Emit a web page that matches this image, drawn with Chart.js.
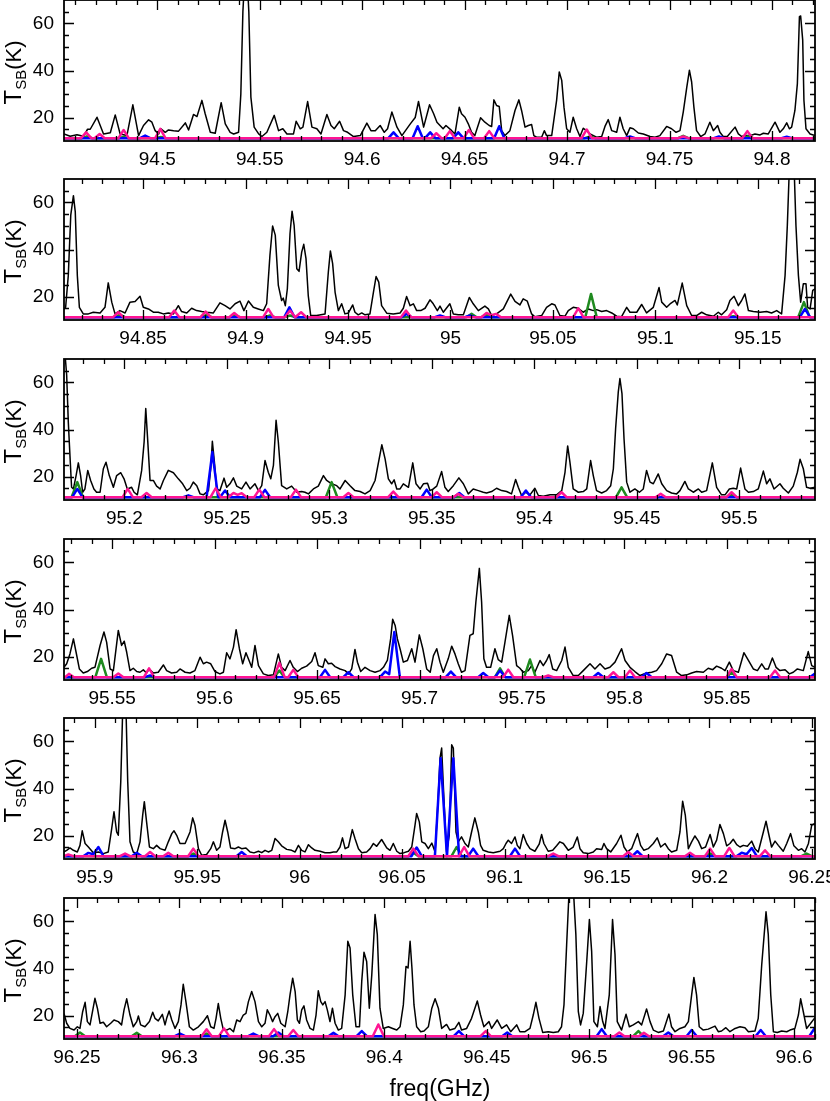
<!DOCTYPE html>
<html>
<head>
<meta charset="utf-8">
<script src="https://cdn.jsdelivr.net/npm/chart.js@4.4.1/dist/chart.umd.min.js"></script>
<style>
  html, body { margin: 0; padding: 0; background: #fff; }
  #wrap { position: relative; width: 830px; height: 1101px; overflow: hidden; }
  #wrap canvas { position: absolute; left: 0; }
</style>
</head>
<body>
<div id="wrap"></div>
<script>
// frequency range of each panel (GHz)
const xRanges = [[94.4545, 94.8210], [94.8114, 95.1779], [95.1705, 95.5370],
                 [95.5265, 95.8930], [95.8850, 96.2515], [96.2437, 96.6102]];
const yRange = [10, 70];

// labelled ticks
const xTicks1 = [94.5, 94.55, 94.6, 94.65, 94.7, 94.75, 94.8];
const xTicks2 = [94.85, 94.9, 94.95, 95, 95.05, 95.1, 95.15];
const xTicks3 = [95.2, 95.25, 95.3, 95.35, 95.4, 95.45, 95.5];
const xTicks4 = [95.55, 95.6, 95.65, 95.7, 95.75, 95.8, 95.85];
const xTicks5 = [95.9, 95.95, 96, 96.05, 96.1, 96.15, 96.2, 96.25];
const xTicks6 = [96.25, 96.3, 96.35, 96.4, 96.45, 96.5, 96.55, 96.6];
const yTicks = [20, 40, 60];

// observed spectrum, [freq, T_SB]
const spec1 = [[94.4545,13.0],[94.4575,12.0],[94.4608,12.7],[94.4640,12.0],[94.4660,15.0],[94.4673,15.0],[94.4706,20.1],[94.4738,13.0],[94.4771,13.5],[94.4795,21.1],[94.4819,13.0],[94.4852,12.3],[94.4881,25.4],[94.4909,12.3],[94.4933,16.6],[94.4958,19.0],[94.4974,18.0],[94.4990,14.4],[94.5007,13.0],[94.5018,15.2],[94.5039,13.7],[94.5055,14.7],[94.5080,14.4],[94.5104,14.2],[94.5137,17.7],[94.5153,14.7],[94.5177,21.3],[94.5194,20.4],[94.5218,27.3],[94.5234,21.6],[94.5259,13.7],[94.5283,13.3],[94.5312,26.3],[94.5332,17.3],[94.5356,13.7],[94.5373,13.0],[94.5397,13.7],[94.5408,30.0],[94.5418,65.0],[94.5433,90.0],[94.5447,65.0],[94.5457,28.7],[94.5473,15.9],[94.5495,13.0],[94.5511,11.9],[94.5535,13.7],[94.5571,20.9],[94.5592,14.4],[94.5613,15.2],[94.5633,13.0],[94.5665,13.0],[94.5678,18.4],[94.5698,15.2],[94.5711,15.9],[94.5734,26.8],[94.5755,15.9],[94.5779,15.2],[94.5799,13.0],[94.5828,21.3],[94.5848,16.6],[94.5864,15.2],[94.5890,18.4],[94.5909,14.4],[94.5929,13.7],[94.5958,11.9],[94.5991,12.3],[94.6023,17.6],[94.6043,14.4],[94.6064,14.4],[94.6088,16.6],[94.6108,13.7],[94.6124,15.2],[94.6145,22.3],[94.6170,15.9],[94.6194,12.3],[94.6235,17.3],[94.6259,20.0],[94.6275,26.8],[94.6300,15.9],[94.6329,25.4],[94.6349,21.6],[94.6365,18.0],[94.6380,16.6],[94.6395,15.2],[94.6409,16.6],[94.6437,14.4],[94.6453,13.0],[94.6474,24.4],[94.6485,21.6],[94.6502,20.1],[94.6518,17.3],[94.6534,13.7],[94.6550,12.3],[94.6578,19.9],[94.6599,18.0],[94.6620,16.6],[94.6632,16.2],[94.6643,27.5],[94.6656,25.1],[94.6669,24.7],[94.6681,14.4],[94.6697,12.3],[94.6721,14.4],[94.6746,23.0],[94.6765,27.5],[94.6778,23.0],[94.6795,15.9],[94.6811,16.6],[94.6827,17.0],[94.6838,12.3],[94.6851,11.6],[94.6876,11.6],[94.6889,14.4],[94.6900,12.3],[94.6925,12.3],[94.6949,27.3],[94.6962,39.4],[94.6974,35.8],[94.6985,24.4],[94.6998,15.2],[94.7014,13.7],[94.7030,20.1],[94.7047,15.2],[94.7063,11.9],[94.7079,15.4],[94.7096,14.4],[94.7112,13.0],[94.7144,11.6],[94.7169,11.9],[94.7185,16.2],[94.7201,19.1],[94.7218,14.4],[94.7242,13.7],[94.7258,20.1],[94.7274,15.2],[94.7291,12.3],[94.7307,15.6],[94.7323,15.2],[94.7348,13.4],[94.7372,13.0],[94.7405,11.9],[94.7429,11.6],[94.7453,12.3],[94.7486,16.2],[94.7510,15.2],[94.7532,13.7],[94.7551,14.4],[94.7567,22.3],[94.7584,32.7],[94.7597,40.1],[94.7608,35.1],[94.7619,24.4],[94.7632,14.4],[94.7652,11.9],[94.7673,13.0],[94.7697,18.0],[94.7714,14.4],[94.7735,16.6],[94.7746,13.7],[94.7762,11.9],[94.7782,11.9],[94.7820,15.9],[94.7836,13.0],[94.7852,11.9],[94.7868,12.3],[94.7893,12.3],[94.7917,13.0],[94.7942,12.6],[94.7958,13.3],[94.7982,13.0],[94.8015,18.0],[94.8039,13.7],[94.8055,15.2],[94.8072,17.7],[94.8085,15.2],[94.8096,15.9],[94.8112,23.0],[94.8124,34.4],[94.8134,62.9],[94.8140,63.2],[94.8150,52.9],[94.8156,27.3],[94.8166,15.2],[94.8186,13.0],[94.8210,12.3]];

const spec2 = [[94.8114,14.7],[94.8122,15.4],[94.8135,29.0],[94.8147,54.6],[94.8160,62.9],[94.8169,56.0],[94.8179,29.0],[94.8189,15.4],[94.8208,12.6],[94.8233,12.6],[94.8257,13.3],[94.8290,13.0],[94.8314,15.4],[94.8330,25.8],[94.8347,17.6],[94.8363,12.6],[94.8387,14.0],[94.8412,13.0],[94.8436,17.6],[94.8461,17.9],[94.8485,20.1],[94.8501,15.4],[94.8526,14.7],[94.8550,13.3],[94.8574,13.3],[94.8599,12.6],[94.8623,13.0],[94.8648,12.6],[94.8672,16.1],[94.8688,13.6],[94.8713,13.0],[94.8737,15.0],[94.8761,14.0],[94.8786,13.6],[94.8810,13.3],[94.8843,13.0],[94.8875,17.3],[94.8900,16.1],[94.8924,14.7],[94.8949,16.9],[94.8973,18.0],[94.8992,14.0],[94.9014,18.1],[94.9038,15.4],[94.9062,14.7],[94.9087,14.0],[94.9103,16.9],[94.9119,37.5],[94.9132,50.0],[94.9145,46.1],[94.9160,24.7],[94.9176,18.3],[94.9184,19.3],[94.9194,16.1],[94.9204,23.3],[94.9217,46.8],[94.9227,56.3],[94.9237,50.3],[94.9250,31.8],[94.9261,30.7],[94.9274,38.9],[94.9284,42.2],[94.9295,36.1],[94.9306,20.4],[94.9318,11.9],[94.9347,11.9],[94.9388,12.6],[94.9404,30.4],[94.9414,39.4],[94.9425,34.0],[94.9437,21.8],[94.9453,14.0],[94.9469,16.9],[94.9485,12.6],[94.9502,13.0],[94.9523,16.4],[94.9534,13.3],[94.9550,12.2],[94.9567,13.0],[94.9583,12.2],[94.9607,12.6],[94.9624,21.8],[94.9637,28.5],[94.9650,26.1],[94.9664,16.1],[94.9689,12.9],[94.9721,12.6],[94.9754,13.0],[94.9770,15.0],[94.9786,20.0],[94.9803,16.1],[94.9819,16.9],[94.9835,14.0],[94.9855,14.0],[94.9876,15.0],[94.9900,18.6],[94.9916,16.9],[94.9936,14.0],[94.9949,15.9],[94.9965,13.3],[94.9997,16.9],[95.0014,12.6],[95.0038,12.2],[95.0063,12.2],[95.0092,19.6],[95.0111,16.9],[95.0136,14.0],[95.0168,15.9],[95.0185,14.7],[95.0201,11.9],[95.0225,12.6],[95.0258,14.7],[95.0294,21.0],[95.0315,17.9],[95.0339,16.4],[95.0355,19.0],[95.0375,18.0],[95.0396,12.6],[95.0412,11.4],[95.0445,11.9],[95.0469,15.4],[95.0494,16.9],[95.0510,16.4],[95.0534,11.9],[95.0559,11.6],[95.0575,14.0],[95.0599,15.4],[95.0624,15.0],[95.0648,13.3],[95.0673,14.7],[95.0697,14.0],[95.0713,14.4],[95.0738,13.6],[95.0762,14.0],[95.0787,13.0],[95.0811,11.6],[95.0835,11.4],[95.0860,15.4],[95.0876,13.3],[95.0909,13.3],[95.0933,16.6],[95.0957,13.0],[95.0990,15.4],[95.1018,23.8],[95.1031,17.6],[95.1055,15.4],[95.1075,17.1],[95.1096,18.3],[95.1107,16.4],[95.1131,25.7],[95.1153,16.1],[95.1177,11.9],[95.1201,11.9],[95.1226,13.3],[95.1250,12.2],[95.1283,11.6],[95.1307,13.3],[95.1323,12.2],[95.1348,14.4],[95.1364,18.3],[95.1384,20.1],[95.1405,16.1],[95.1421,18.3],[95.1437,21.1],[95.1454,14.0],[95.1478,13.6],[95.1511,13.3],[95.1543,13.6],[95.1567,13.0],[95.1592,14.0],[95.1616,12.6],[95.1633,29.0],[95.1644,50.3],[95.1654,75.0],[95.1665,90.0],[95.1677,75.0],[95.1686,50.3],[95.1698,29.0],[95.1709,17.6],[95.1722,25.4],[95.1735,25.4],[95.1743,15.4],[95.1755,14.7],[95.1768,22.6],[95.1779,23.3]];

const spec3 = [[95.1705,85.0],[95.1710,72.0],[95.1718,63.2],[95.1726,43.2],[95.1734,29.0],[95.1742,15.4],[95.1751,14.7],[95.1764,20.4],[95.1775,25.8],[95.1786,20.4],[95.1796,13.3],[95.1807,14.7],[95.1821,22.6],[95.1835,18.3],[95.1851,14.7],[95.1864,13.3],[95.1881,13.3],[95.1897,23.3],[95.1910,26.1],[95.1926,20.4],[95.1946,15.4],[95.1962,20.4],[95.1982,21.6],[95.1998,19.0],[95.2014,14.7],[95.2035,15.4],[95.2047,13.3],[95.2063,12.2],[95.2084,22.6],[95.2096,34.7],[95.2104,48.9],[95.2113,36.1],[95.2125,18.3],[95.2141,18.3],[95.2157,15.9],[95.2174,14.7],[95.2190,18.3],[95.2214,22.6],[95.2239,21.6],[95.2263,19.0],[95.2284,16.9],[95.2304,14.0],[95.2320,15.0],[95.2336,17.6],[95.2353,16.1],[95.2369,12.6],[95.2385,12.2],[95.2410,14.0],[95.2421,23.3],[95.2429,35.0],[95.2439,26.1],[95.2450,14.7],[95.2466,14.0],[95.2486,19.3],[95.2499,15.4],[95.2515,16.9],[95.2532,19.4],[95.2548,15.9],[95.2572,14.7],[95.2593,17.6],[95.2613,14.7],[95.2637,16.9],[95.2654,14.0],[95.2670,16.1],[95.2686,26.8],[95.2702,21.8],[95.2714,19.0],[95.2727,24.7],[95.2740,43.9],[95.2751,34.7],[95.2767,16.1],[95.2792,14.7],[95.2816,15.9],[95.2841,13.3],[95.2865,13.6],[95.2881,13.3],[95.2898,12.6],[95.2922,14.7],[95.2946,15.9],[95.2971,20.4],[95.2987,18.3],[95.3011,16.9],[95.3036,16.1],[95.3052,14.7],[95.3077,18.3],[95.3101,16.1],[95.3125,14.0],[95.3150,13.6],[95.3174,12.6],[95.3199,14.0],[95.3223,18.3],[95.3256,33.5],[95.3272,27.5],[95.3288,19.0],[95.3304,16.9],[95.3316,18.6],[95.3329,14.7],[95.3345,14.7],[95.3361,16.9],[95.3386,15.4],[95.3407,25.8],[95.3423,16.9],[95.3443,14.7],[95.3459,16.9],[95.3479,17.1],[95.3491,14.0],[95.3507,14.7],[95.3524,15.9],[95.3548,22.1],[95.3564,15.4],[95.3580,13.6],[95.3605,16.1],[95.3632,19.4],[95.3654,16.9],[95.3678,12.6],[95.3702,14.7],[95.3727,14.0],[95.3751,13.3],[95.3767,13.0],[95.3792,13.6],[95.3816,15.0],[95.3841,14.0],[95.3865,13.6],[95.3889,12.6],[95.3909,18.7],[95.3922,15.4],[95.3938,11.9],[95.3959,13.3],[95.3979,12.2],[95.4003,15.0],[95.4020,11.9],[95.4044,11.6],[95.4077,12.2],[95.4109,12.2],[95.4134,14.0],[95.4150,21.8],[95.4163,33.0],[95.4174,26.1],[95.4190,14.7],[95.4215,13.3],[95.4239,13.6],[95.4256,14.7],[95.4275,26.8],[95.4288,20.4],[95.4304,14.0],[95.4329,13.0],[95.4353,14.0],[95.4373,16.1],[95.4386,23.3],[95.4397,40.4],[95.4410,56.0],[95.4418,61.7],[95.4428,55.3],[95.4438,36.1],[95.4451,17.6],[95.4467,13.3],[95.4491,14.7],[95.4513,13.3],[95.4532,14.7],[95.4548,22.6],[95.4565,17.6],[95.4581,16.9],[95.4605,21.1],[95.4622,16.9],[95.4646,14.0],[95.4670,13.0],[95.4695,12.6],[95.4711,14.0],[95.4735,17.9],[95.4752,14.7],[95.4776,13.3],[95.4801,14.7],[95.4817,13.3],[95.4841,14.0],[95.4869,25.8],[95.4890,15.4],[95.4914,12.2],[95.4931,12.2],[95.4952,14.7],[95.4971,15.0],[95.4988,14.7],[95.5007,23.6],[95.5028,14.7],[95.5045,13.3],[95.5069,13.6],[95.5093,14.7],[95.5118,22.3],[95.5134,16.9],[95.5150,19.0],[95.5170,14.7],[95.5199,16.9],[95.5215,15.0],[95.5240,13.0],[95.5264,15.9],[95.5284,21.8],[95.5297,27.3],[95.5313,23.3],[95.5329,15.4],[95.5346,15.0],[95.5370,15.4]];

const spec4 = [[95.5265,15.4],[95.5278,16.9],[95.5294,21.1],[95.5311,27.5],[95.5324,21.8],[95.5340,14.7],[95.5359,13.0],[95.5379,13.6],[95.5400,15.0],[95.5416,15.4],[95.5441,24.7],[95.5460,30.4],[95.5473,26.1],[95.5490,14.7],[95.5506,14.0],[95.5530,31.1],[95.5546,24.7],[95.5559,26.5],[95.5571,21.8],[95.5587,14.0],[95.5603,15.0],[95.5620,13.6],[95.5636,13.3],[95.5652,14.3],[95.5668,13.0],[95.5681,14.7],[95.5701,13.0],[95.5725,13.3],[95.5750,16.4],[95.5766,14.0],[95.5790,13.0],[95.5815,13.3],[95.5831,14.7],[95.5856,13.3],[95.5880,13.0],[95.5904,14.0],[95.5929,19.7],[95.5945,16.9],[95.5961,17.6],[95.5981,16.9],[95.6002,13.6],[95.6026,12.6],[95.6043,13.3],[95.6059,21.6],[95.6075,19.0],[95.6092,24.0],[95.6105,31.4],[95.6121,23.3],[95.6137,16.9],[95.6153,21.6],[95.6170,17.9],[95.6181,15.4],[95.6197,24.7],[95.6214,16.1],[95.6238,12.6],[95.6262,11.9],[95.6287,12.2],[95.6311,21.1],[95.6327,15.4],[95.6344,14.0],[95.6368,18.3],[95.6384,15.4],[95.6404,13.6],[95.6425,15.0],[95.6449,15.9],[95.6474,17.9],[95.6490,21.6],[95.6506,16.1],[95.6528,15.4],[95.6539,19.0],[95.6555,16.9],[95.6571,17.1],[95.6588,15.7],[95.6612,14.7],[95.6637,14.0],[95.6653,12.6],[95.6669,14.7],[95.6685,23.0],[95.6697,17.6],[95.6713,13.6],[95.6734,15.4],[95.6759,14.0],[95.6783,13.3],[95.6807,14.0],[95.6824,15.4],[95.6843,18.3],[95.6859,27.5],[95.6869,35.8],[95.6881,33.2],[95.6892,27.5],[95.6905,23.3],[95.6921,17.6],[95.6941,18.3],[95.6962,23.3],[95.6978,17.6],[95.6999,29.2],[95.7016,23.3],[95.7035,14.7],[95.7052,13.3],[95.7068,20.4],[95.7084,23.3],[95.7100,17.6],[95.7116,13.3],[95.7140,19.0],[95.7157,24.4],[95.7173,21.1],[95.7189,16.9],[95.7205,13.3],[95.7222,14.0],[95.7246,29.0],[95.7262,29.7],[95.7275,43.2],[95.7292,57.5],[95.7303,43.2],[95.7314,19.0],[95.7327,15.4],[95.7347,15.4],[95.7368,23.3],[95.7384,18.7],[95.7401,17.6],[95.7417,26.1],[95.7438,37.5],[95.7454,29.0],[95.7474,16.1],[95.7490,15.0],[95.7506,13.3],[95.7531,14.0],[95.7547,16.1],[95.7563,13.3],[95.7588,18.3],[95.7604,16.1],[95.7620,18.3],[95.7633,20.8],[95.7650,14.7],[95.7669,14.0],[95.7694,18.3],[95.7710,24.0],[95.7726,15.4],[95.7750,11.9],[95.7775,11.9],[95.7799,14.0],[95.7832,16.9],[95.7856,14.7],[95.7881,16.9],[95.7905,14.7],[95.7929,15.4],[95.7954,17.6],[95.7986,23.3],[95.8003,18.3],[95.8027,15.4],[95.8051,13.6],[95.8076,11.9],[95.8108,13.0],[95.8133,13.3],[95.8157,14.0],[95.8182,16.9],[95.8206,21.1],[95.8230,20.4],[95.8255,13.3],[95.8279,11.9],[95.8304,12.2],[95.8328,13.0],[95.8352,13.6],[95.8385,13.3],[95.8409,15.0],[95.8431,14.4],[95.8450,15.9],[95.8474,15.0],[95.8491,14.0],[95.8512,17.6],[95.8531,14.0],[95.8556,13.3],[95.8583,21.6],[95.8605,18.3],[95.8629,14.7],[95.8649,14.0],[95.8670,16.9],[95.8686,14.7],[95.8702,14.7],[95.8722,19.4],[95.8740,15.4],[95.8759,14.0],[95.8784,14.4],[95.8805,12.6],[95.8824,13.3],[95.8844,14.7],[95.8873,14.0],[95.8897,22.1],[95.8914,16.1],[95.8930,15.4]];

const spec5 = [[95.8850,13.0],[95.8863,13.7],[95.8879,14.7],[95.8896,13.7],[95.8915,13.0],[95.8928,15.8],[95.8939,22.0],[95.8953,16.6],[95.8969,15.1],[95.8993,12.7],[95.9018,13.0],[95.9042,12.3],[95.9066,13.0],[95.9083,23.0],[95.9094,30.1],[95.9107,21.5],[95.9115,20.1],[95.9127,42.9],[95.9136,72.0],[95.9144,85.0],[95.9153,72.0],[95.9161,42.9],[95.9172,17.3],[95.9188,13.0],[95.9205,12.3],[95.9221,17.3],[95.9234,28.7],[95.9242,34.4],[95.9253,25.8],[95.9267,15.1],[95.9286,14.4],[95.9302,15.8],[95.9319,14.4],[95.9343,13.7],[95.9359,17.3],[95.9376,20.8],[95.9387,22.0],[95.9400,20.1],[95.9416,16.6],[95.9441,16.6],[95.9465,21.5],[95.9478,27.5],[95.9489,24.4],[95.9506,14.4],[95.9522,11.6],[95.9546,11.9],[95.9566,14.4],[95.9579,17.3],[95.9595,13.7],[95.9611,15.1],[95.9624,21.5],[95.9636,26.5],[95.9649,21.5],[95.9663,14.7],[95.9685,14.4],[95.9701,15.1],[95.9717,14.4],[95.9738,14.7],[95.9758,13.0],[95.9777,12.6],[95.9799,13.3],[95.9815,12.7],[95.9831,13.7],[95.9847,13.0],[95.9864,13.7],[95.9880,18.7],[95.9896,17.3],[95.9912,15.6],[95.9937,14.1],[95.9961,13.7],[95.9978,13.0],[95.9994,15.8],[96.0010,13.7],[96.0026,13.0],[96.0043,16.1],[96.0059,14.7],[96.0075,13.7],[96.0100,13.3],[96.0124,12.7],[96.0148,12.7],[96.0165,13.0],[96.0181,13.0],[96.0197,15.1],[96.0209,19.0],[96.0222,14.4],[96.0238,15.1],[96.0257,22.5],[96.0270,18.7],[96.0287,14.4],[96.0303,12.7],[96.0327,13.0],[96.0344,14.4],[96.0360,16.6],[96.0376,15.4],[96.0400,18.3],[96.0425,14.7],[96.0441,13.7],[96.0457,16.6],[96.0474,13.3],[96.0490,12.3],[96.0510,12.7],[96.0531,13.3],[96.0547,15.1],[96.0563,24.4],[96.0571,29.4],[96.0584,25.8],[96.0596,17.3],[96.0612,16.6],[96.0628,14.4],[96.0645,16.8],[96.0661,13.0],[96.0676,35.8],[96.0685,52.9],[96.0693,57.2],[96.0704,35.8],[96.0717,13.0],[96.0730,20.0],[96.0742,58.6],[96.0750,57.2],[96.0763,21.5],[96.0774,17.3],[96.0790,19.4],[96.0807,16.6],[96.0823,15.1],[96.0839,21.5],[96.0855,27.5],[96.0872,21.5],[96.0883,15.8],[96.0896,13.7],[96.0921,13.0],[96.0945,12.7],[96.0978,13.3],[96.0994,14.4],[96.1007,16.6],[96.1018,18.0],[96.1034,16.6],[96.1051,19.4],[96.1062,15.8],[96.1075,14.4],[96.1091,20.4],[96.1108,16.6],[96.1124,14.4],[96.1148,13.3],[96.1169,16.3],[96.1181,20.4],[96.1192,16.6],[96.1213,13.3],[96.1235,13.7],[96.1254,15.6],[96.1270,17.3],[96.1287,16.6],[96.1311,13.7],[96.1335,15.1],[96.1355,19.4],[96.1368,14.4],[96.1384,12.7],[96.1409,12.3],[96.1433,13.0],[96.1449,14.4],[96.1474,14.0],[96.1485,16.6],[96.1498,14.4],[96.1518,13.0],[96.1547,16.6],[96.1568,20.1],[96.1583,15.1],[96.1599,13.0],[96.1620,14.4],[96.1636,18.0],[96.1649,20.8],[96.1664,15.8],[96.1680,13.7],[96.1701,14.4],[96.1726,16.6],[96.1745,19.0],[96.1762,15.1],[96.1783,16.6],[96.1799,14.4],[96.1815,13.0],[96.1840,13.7],[96.1856,21.5],[96.1869,34.6],[96.1882,28.7],[96.1897,14.4],[96.1913,17.3],[96.1929,19.8],[96.1946,17.6],[96.1962,14.4],[96.1981,15.1],[96.2003,20.4],[96.2019,15.1],[96.2035,18.0],[96.2051,24.7],[96.2068,20.8],[96.2084,15.6],[96.2100,16.6],[96.2116,18.4],[96.2133,16.1],[96.2149,15.1],[96.2165,15.8],[96.2185,15.4],[96.2206,17.6],[96.2222,14.4],[96.2238,13.0],[96.2263,21.5],[96.2276,26.1],[96.2287,21.5],[96.2303,15.1],[96.2320,17.6],[96.2336,15.8],[96.2360,13.3],[96.2377,16.6],[96.2396,20.8],[96.2412,15.6],[96.2434,13.7],[96.2450,14.4],[96.2466,13.0],[96.2483,16.6],[96.2499,24.4],[96.2515,25.1]];

const spec6 = [[96.2437,20.9],[96.2450,16.7],[96.2466,14.5],[96.2486,13.8],[96.2502,15.2],[96.2515,14.5],[96.2528,21.6],[96.2540,25.6],[96.2551,17.4],[96.2564,16.0],[96.2588,27.3],[96.2600,23.1],[96.2613,16.7],[96.2629,17.1],[96.2645,15.2],[96.2665,16.7],[96.2681,18.1],[96.2702,17.4],[96.2718,16.0],[96.2730,22.4],[96.2743,27.1],[96.2759,20.2],[96.2775,15.2],[96.2792,17.4],[96.2800,19.8],[96.2811,16.0],[96.2832,15.2],[96.2854,17.4],[96.2870,21.4],[96.2881,18.8],[96.2897,17.7],[96.2917,20.5],[96.2930,16.0],[96.2938,18.8],[96.2950,21.9],[96.2963,18.1],[96.2979,14.5],[96.2995,17.4],[96.3008,24.5],[96.3019,33.3],[96.3032,25.9],[96.3049,15.2],[96.3068,13.8],[96.3093,15.2],[96.3117,17.4],[96.3137,19.9],[96.3153,15.2],[96.3169,14.5],[96.3179,18.8],[96.3190,25.1],[96.3202,18.8],[96.3215,13.8],[96.3231,13.8],[96.3247,14.5],[96.3264,13.1],[96.3280,18.1],[96.3296,17.4],[96.3312,20.2],[96.3325,20.9],[96.3337,25.9],[96.3353,30.2],[96.3369,25.9],[96.3386,17.4],[96.3402,15.2],[96.3418,16.7],[96.3429,22.4],[96.3442,20.2],[96.3455,17.4],[96.3467,19.5],[96.3480,20.9],[96.3495,16.7],[96.3516,15.2],[96.3529,21.6],[96.3540,28.8],[96.3553,35.9],[96.3565,30.2],[96.3576,18.1],[96.3586,16.7],[96.3597,22.4],[96.3608,24.1],[96.3621,18.1],[96.3638,14.5],[96.3654,13.8],[96.3667,20.2],[96.3678,30.5],[96.3690,25.9],[96.3700,24.5],[96.3711,25.9],[96.3722,22.4],[96.3735,17.4],[96.3747,23.1],[96.3760,16.7],[96.3776,13.8],[96.3792,14.5],[96.3809,28.8],[96.3822,51.6],[96.3833,48.7],[96.3846,28.8],[96.3862,15.2],[96.3879,15.2],[96.3890,34.5],[96.3901,46.9],[96.3914,43.0],[96.3927,23.1],[96.3939,37.3],[96.3955,63.0],[96.3966,54.4],[96.3979,23.1],[96.3995,14.5],[96.4020,15.2],[96.4041,14.5],[96.4061,13.8],[96.4077,15.2],[96.4093,24.5],[96.4106,40.9],[96.4116,40.2],[96.4126,51.6],[96.4135,40.2],[96.4145,24.5],[96.4158,15.2],[96.4178,13.1],[96.4194,13.4],[96.4215,15.2],[96.4232,23.1],[96.4248,27.1],[96.4264,23.1],[96.4280,14.5],[96.4304,16.2],[96.4320,13.8],[96.4345,14.5],[96.4364,17.1],[96.4377,13.8],[96.4402,14.5],[96.4426,18.8],[96.4454,26.2],[96.4470,20.2],[96.4486,15.2],[96.4511,17.4],[96.4524,14.5],[96.4551,18.1],[96.4573,14.5],[96.4597,16.0],[96.4617,13.1],[96.4646,16.0],[96.4662,13.1],[96.4687,13.1],[96.4711,14.5],[96.4727,20.2],[96.4740,25.6],[96.4755,18.8],[96.4773,12.8],[96.4800,13.1],[96.4825,12.8],[96.4849,13.1],[96.4865,15.2],[96.4877,24.5],[96.4890,50.1],[96.4903,75.0],[96.4913,85.0],[96.4922,75.0],[96.4935,54.4],[96.4947,21.6],[96.4958,16.0],[96.4971,20.9],[96.4988,43.0],[96.5001,60.8],[96.5012,47.3],[96.5023,17.4],[96.5040,15.2],[96.5053,23.8],[96.5066,17.4],[96.5077,14.5],[96.5098,28.8],[96.5114,60.8],[96.5126,45.9],[96.5137,17.4],[96.5158,13.8],[96.5180,20.5],[96.5196,15.2],[96.5215,16.0],[96.5240,17.4],[96.5256,16.0],[96.5280,22.8],[96.5297,17.4],[96.5313,13.8],[96.5337,12.8],[96.5362,13.4],[96.5389,20.6],[96.5402,15.2],[96.5419,13.1],[96.5443,14.5],[96.5467,15.2],[96.5484,17.4],[96.5500,28.8],[96.5511,36.2],[96.5524,28.8],[96.5537,15.2],[96.5557,13.8],[96.5581,14.2],[96.5614,15.5],[96.5630,13.1],[96.5646,13.4],[96.5667,14.8],[96.5687,13.1],[96.5712,14.5],[96.5736,15.2],[96.5760,14.8],[96.5777,13.1],[96.5809,13.4],[96.5825,18.8],[96.5842,41.6],[96.5863,64.1],[96.5874,54.4],[96.5886,28.8],[96.5899,13.1],[96.5918,12.8],[96.5939,13.4],[96.5964,13.1],[96.5980,13.8],[96.6004,14.5],[96.6021,20.2],[96.6032,27.1],[96.6045,21.6],[96.6061,14.5],[96.6081,16.7],[96.6102,19.1]];

// model line (pink)
const pink1 = [[94.4545,11.2],[94.4628,11.2],[94.4653,13.7],[94.4678,11.2],[94.4694,11.2],[94.4719,13.0],[94.4744,11.2],[94.4811,11.2],[94.4836,14.7],[94.4861,11.2],[94.4990,11.2],[94.5015,15.2],[94.5040,11.2],[94.6337,11.2],[94.6362,13.3],[94.6387,11.2],[94.6403,11.2],[94.6428,14.2],[94.6453,11.2],[94.6496,11.2],[94.6521,14.7],[94.6546,11.2],[94.6595,11.2],[94.6620,14.2],[94.6645,11.2],[94.7071,11.2],[94.7096,14.9],[94.7121,11.2],[94.7542,11.2],[94.7567,11.9],[94.7592,11.2],[94.7855,11.2],[94.7880,14.2],[94.7905,11.2],[94.8210,11.2]];
const pink2 = [[94.8114,11.2],[94.8354,11.2],[94.8379,13.3],[94.8404,11.2],[94.8627,11.2],[94.8652,14.0],[94.8677,11.2],[94.8780,11.2],[94.8805,13.6],[94.8830,11.2],[94.8920,11.2],[94.8945,13.0],[94.8970,11.2],[94.9086,11.2],[94.9111,14.7],[94.9136,11.2],[94.9192,11.2],[94.9217,14.0],[94.9242,11.2],[94.9246,11.2],[94.9271,13.3],[94.9296,11.2],[94.9758,11.2],[94.9783,14.0],[94.9808,11.2],[95.0151,11.2],[95.0176,13.0],[95.0199,12.0],[95.0222,12.6],[95.0247,11.2],[95.0599,11.2],[95.0624,15.0],[95.0649,11.2],[95.1355,11.2],[95.1380,14.0],[95.1405,11.2],[95.1779,11.2]];
const pink3 = [[95.1705,11.2],[95.1991,11.2],[95.2016,14.7],[95.2041,11.2],[95.2083,11.2],[95.2108,13.0],[95.2133,11.2],[95.2420,11.2],[95.2445,15.0],[95.2470,11.2],[95.2507,11.2],[95.2532,13.0],[95.2552,12.2],[95.2572,12.9],[95.2597,11.2],[95.2633,11.2],[95.2658,14.4],[95.2683,11.2],[95.2812,11.2],[95.2837,14.4],[95.2862,11.2],[95.3068,11.2],[95.3093,13.0],[95.3118,11.2],[95.3287,11.2],[95.3312,13.6],[95.3337,11.2],[95.3499,11.2],[95.3524,13.3],[95.3549,11.2],[95.3604,11.2],[95.3629,12.6],[95.3654,11.2],[95.4108,11.2],[95.4133,13.3],[95.4158,11.2],[95.4592,11.2],[95.4617,12.6],[95.4642,11.2],[95.4938,11.2],[95.4963,13.3],[95.4988,11.2],[95.5370,11.2]];
const pink4 = [[95.5265,11.2],[95.5270,11.2],[95.5289,12.6],[95.5314,11.2],[95.5505,11.2],[95.5530,12.8],[95.5555,11.2],[95.5655,11.2],[95.5680,15.0],[95.5705,11.2],[95.6290,11.2],[95.6316,17.3],[95.6342,11.2],[95.6359,11.2],[95.6384,14.3],[95.6409,11.2],[95.7408,11.2],[95.7433,14.4],[95.7458,11.2],[95.7603,11.2],[95.7628,11.9],[95.7653,11.2],[95.7921,11.2],[95.7946,13.3],[95.7971,11.2],[95.8002,11.2],[95.8027,14.0],[95.8052,11.2],[95.8498,11.2],[95.8523,14.7],[95.8548,11.2],[95.8710,11.2],[95.8735,14.0],[95.8760,11.2],[95.8930,11.2]];
const pink5 = [[95.8850,11.2],[95.8871,11.9],[95.8896,11.2],[95.9123,11.2],[95.9148,12.3],[95.9173,11.2],[95.9245,11.2],[95.9270,13.0],[95.9295,11.2],[95.9334,11.2],[95.9359,12.6],[95.9384,11.2],[95.9456,11.2],[95.9481,14.4],[95.9506,11.2],[96.0530,11.2],[96.0555,14.4],[96.0580,11.2],[96.0778,11.2],[96.0803,15.1],[96.0828,11.2],[96.1213,11.2],[96.1238,12.3],[96.1263,11.2],[96.1579,11.2],[96.1604,13.0],[96.1629,11.2],[96.1880,11.2],[96.1905,12.6],[96.1930,11.2],[96.1978,11.2],[96.2003,14.4],[96.2028,11.2],[96.2072,11.2],[96.2097,14.7],[96.2122,11.2],[96.2246,11.2],[96.2271,13.7],[96.2296,11.2],[96.2515,11.2]];
const pink6 = [[96.2437,11.2],[96.3108,11.2],[96.3133,14.1],[96.3158,11.2],[96.3193,11.2],[96.3218,14.5],[96.3243,11.2],[96.3437,11.2],[96.3462,14.2],[96.3487,11.2],[96.3531,11.2],[96.3556,13.8],[96.3581,11.2],[96.3944,11.2],[96.3971,16.2],[96.3998,11.2],[96.4470,11.2],[96.4495,13.4],[96.4520,11.2],[96.5122,11.2],[96.5147,12.8],[96.5172,11.2],[96.5242,11.2],[96.5267,12.6],[96.5292,11.2],[96.6102,11.2]];

// model line (blue)
const blue1 = [[94.4545,11.2],[94.4916,11.2],[94.4941,12.3],[94.4966,11.2],[94.6128,11.2],[94.6153,13.7],[94.6178,11.2],[94.6246,11.2],[94.6271,16.3],[94.6296,11.2],[94.6307,11.2],[94.6332,13.7],[94.6357,11.2],[94.6444,11.2],[94.6469,13.7],[94.6494,11.2],[94.6644,11.2],[94.6669,16.3],[94.6694,11.2],[94.7282,11.2],[94.7307,11.9],[94.7332,11.2],[94.7716,11.2],[94.7741,11.9],[94.7766,11.2],[94.8047,11.2],[94.8072,11.8],[94.8097,11.2],[94.8210,11.2]];
const blue2 = [[94.8114,11.2],[94.9189,11.2],[94.9214,15.4],[94.9239,11.2],[94.9761,11.2],[94.9786,12.6],[94.9811,11.2],[94.9924,11.2],[94.9949,11.9],[94.9974,11.2],[95.0070,11.2],[95.0095,11.9],[95.0120,11.2],[95.1705,11.2],[95.1730,14.7],[95.1755,11.2],[95.1779,11.2]];
const blue3 = [[95.1705,11.2],[95.1745,11.2],[95.1770,14.7],[95.1795,11.2],[95.2287,11.2],[95.2312,12.0],[95.2337,11.2],[95.2401,11.2],[95.2429,30.4],[95.2457,11.2],[95.2466,11.2],[95.2491,14.0],[95.2516,11.2],[95.2661,11.2],[95.2686,14.3],[95.2711,11.2],[95.3450,11.2],[95.3475,14.4],[95.3500,11.2],[95.3609,11.2],[95.3634,13.0],[95.3659,11.2],[95.3934,11.2],[95.3959,14.0],[95.3984,11.2],[95.5370,11.2]];
const blue4 = [[95.5265,11.2],[95.5660,11.2],[95.5685,11.9],[95.5710,11.2],[95.6514,11.2],[95.6539,14.3],[95.6564,11.2],[95.6628,11.2],[95.6653,13.3],[95.6678,11.2],[95.6807,11.2],[95.6832,13.6],[95.6852,12.5],[95.6877,30.4],[95.6904,11.2],[95.7128,11.2],[95.7153,13.6],[95.7178,11.2],[95.7286,11.2],[95.7311,13.0],[95.7336,11.2],[95.7368,11.2],[95.7393,14.0],[95.7418,11.2],[95.7847,11.2],[95.7872,13.0],[95.7897,11.2],[95.8083,11.2],[95.8108,13.0],[95.8133,11.2],[95.8905,11.2],[95.8930,12.8]];
const blue5 = [[95.8850,11.2],[95.8944,11.2],[95.8969,12.6],[95.8993,12.0],[95.9018,15.1],[95.9043,11.2],[95.9180,11.2],[95.9205,12.6],[95.9230,11.2],[95.9692,11.2],[95.9717,13.0],[95.9742,11.2],[96.0546,11.2],[96.0571,14.9],[96.0596,11.2],[96.0660,11.2],[96.0688,52.9],[96.0719,11.2],[96.0750,52.9],[96.0778,11.2],[96.0822,11.2],[96.0847,14.4],[96.0872,11.2],[96.1026,11.2],[96.1051,14.4],[96.1076,11.2],[96.1623,11.2],[96.1648,13.3],[96.1673,11.2],[96.2132,11.2],[96.2157,12.7],[96.2181,12.0],[96.2206,14.7],[96.2231,11.2],[96.2515,11.2]];
const blue6 = [[96.2437,11.2],[96.2978,11.2],[96.3003,12.3],[96.3028,11.2],[96.3336,11.2],[96.3361,12.3],[96.3386,11.2],[96.3458,11.2],[96.3483,12.8],[96.3508,11.2],[96.3727,11.2],[96.3752,12.6],[96.3777,11.2],[96.3865,11.2],[96.3890,13.4],[96.3915,11.2],[96.4339,11.2],[96.4364,13.4],[96.4389,11.2],[96.4575,11.2],[96.4600,12.8],[96.4625,11.2],[96.5036,11.2],[96.5061,14.2],[96.5086,11.2],[96.5361,11.2],[96.5386,12.8],[96.5411,11.2],[96.5475,11.2],[96.5500,13.8],[96.5525,11.2],[96.5812,11.2],[96.5837,13.8],[96.5862,11.2],[96.6074,11.2],[96.6102,14.8]];

// model line (green)
const green1 = [[94.4545,11.2],[94.4632,11.2],[94.4657,12.0],[94.4682,11.2],[94.4811,11.2],[94.4836,11.7],[94.4861,11.2],[94.4993,11.2],[94.5018,11.7],[94.5043,11.2],[94.7087,11.2],[94.7112,12.0],[94.7137,11.2],[94.7542,11.2],[94.7567,12.2],[94.7592,11.2],[94.7859,11.2],[94.7884,12.0],[94.7909,11.2],[94.8210,11.2]];
const green2 = [[94.8114,11.2],[94.8362,11.2],[94.8387,12.2],[94.8412,11.2],[94.8785,11.2],[94.8810,12.2],[94.8835,11.2],[94.8924,11.2],[94.8949,11.9],[94.8974,11.2],[94.9094,11.2],[94.9119,11.9],[94.9144,11.2],[94.9192,11.2],[94.9217,11.9],[94.9242,11.2],[95.0078,11.2],[95.0103,12.6],[95.0128,11.2],[95.0151,11.2],[95.0176,12.2],[95.0201,11.2],[95.0658,11.2],[95.0686,21.1],[95.0714,11.2],[95.1355,11.2],[95.1380,11.6],[95.1405,11.2],[95.1697,11.2],[95.1725,17.6],[95.1753,11.2],[95.1779,11.2]];
const green3 = [[95.1705,11.2],[95.1742,11.2],[95.1770,17.6],[95.1798,11.2],[95.2983,11.2],[95.3011,17.6],[95.3039,11.2],[95.4399,11.2],[95.4426,15.4],[95.4453,11.2],[95.4938,11.2],[95.4963,12.2],[95.4988,11.2],[95.5370,11.2]];
const green4 = [[95.5265,11.2],[95.5418,11.2],[95.5446,19.0],[95.5474,11.2],[95.6291,11.2],[95.6316,14.0],[95.6341,11.2],[95.7368,11.2],[95.7393,15.0],[95.7418,11.2],[95.7511,11.2],[95.7539,18.7],[95.7567,11.2],[95.8498,11.2],[95.8523,13.3],[95.8548,11.2],[95.8930,11.2]];
const green5 = [[95.8850,11.2],[95.9456,11.2],[95.9481,12.3],[95.9506,11.2],[96.0530,11.2],[96.0555,12.7],[96.0580,11.2],[96.0741,11.2],[96.0766,15.1],[96.0791,11.2],[96.1978,11.2],[96.2003,12.3],[96.2028,11.2],[96.2449,11.2],[96.2474,12.3],[96.2499,11.2],[96.2515,11.2]];
const green6 = [[96.2437,11.2],[96.2490,11.2],[96.2515,12.8],[96.2540,11.2],[96.2767,11.2],[96.2792,12.6],[96.2817,11.2],[96.3108,11.2],[96.3133,12.3],[96.3158,11.2],[96.5215,11.2],[96.5240,13.4],[96.5265,11.2],[96.6102,11.2]];

const spectra = [spec1, spec2, spec3, spec4, spec5, spec6];
const pinks = [pink1, pink2, pink3, pink4, pink5, pink6];
const blues = [blue1, blue2, blue3, blue4, blue5, blue6];
const greens = [green1, green2, green3, green4, green5, green6];
const xTickSets = [xTicks1, xTicks2, xTicks3, xTicks4, xTicks5, xTicks6];

// page layout: top of each plot box and its height
const panelTops = [0, 179, 359, 539, 718, 898];
const plotH = 141;
const FONT = '"Liberation Sans", Arial, Helvetica, sans-serif';

const toXY = arr => arr.map(p => ({ x: p[0], y: p[1] }));

// box, inward ticks on all four sides, and axis titles
const framePlugin = {
  id: 'frame',
  afterDraw(chart, args, opts) {
    const { ctx, chartArea: a } = chart;
    const x = chart.scales.x, y = chart.scales.y;
    ctx.save();
    ctx.strokeStyle = '#000';
    ctx.lineWidth = 1.3;
    ctx.beginPath();
    for (let k = Math.ceil(x.min * 100); k <= x.max * 100; k++) {
      const px = Math.round(x.getPixelForValue(k / 100)) + 0.5;
      const len = k % 5 === 0 ? 10 : 5;
      ctx.moveTo(px, a.bottom); ctx.lineTo(px, a.bottom - len);
      ctx.moveTo(px, a.top); ctx.lineTo(px, a.top + len);
    }
    for (let v = 15; v < y.max; v += 5) {
      const py = Math.round(y.getPixelForValue(v)) + 0.5;
      const len = v % 20 === 0 ? 10 : 5;
      ctx.moveTo(a.left, py); ctx.lineTo(a.left + len, py);
      ctx.moveTo(a.right, py); ctx.lineTo(a.right - len, py);
    }
    ctx.stroke();
    ctx.lineWidth = 1.8;
    ctx.strokeRect(a.left, a.top, a.right - a.left, a.bottom - a.top);

    // y title: T_SB(K), rotated
    ctx.fillStyle = '#000';
    ctx.translate(21, (a.top + a.bottom) / 2 + 2);
    ctx.rotate(-Math.PI / 2);
    ctx.textBaseline = 'alphabetic';
    ctx.font = '24px ' + FONT;
    const wT = ctx.measureText('T').width;
    ctx.font = '22px ' + FONT;
    const wK = ctx.measureText('(K)').width;
    ctx.font = '15px ' + FONT;
    const wS = ctx.measureText('SB').width;
    const x0 = -(wT + wS + wK) / 2;
    ctx.font = '24px ' + FONT;
    ctx.fillText('T', x0, 0);
    ctx.font = '15px ' + FONT;
    ctx.fillText('SB', x0 + wT, 5);
    ctx.font = '22px ' + FONT;
    ctx.fillText('(K)', x0 + wT + wS, 0);
    ctx.restore();

    if (opts.xTitle) {
      ctx.save();
      ctx.fillStyle = '#000';
      ctx.font = '23px ' + FONT;
      ctx.textAlign = 'center';
      ctx.textBaseline = 'alphabetic';
      ctx.fillText(opts.xTitle, 440, a.bottom + 57);
      ctx.restore();
    }
  }
};

const wrap = document.getElementById('wrap');

for (let i = 0; i < 6; i++) {
  const top = panelTops[i] - 2;
  const h = i === 5 ? 1101 - top : 180;
  const cv = document.createElement('canvas');
  cv.width = 830; cv.height = h;
  cv.style.top = top + 'px';
  cv.style.width = '830px'; cv.style.height = h + 'px';
  wrap.appendChild(cv);

  const ticksX = xTickSets[i];
  new Chart(cv.getContext('2d'), {
    type: 'line',
    data: {
      datasets: [
        { data: toXY(pinks[i]), borderColor: '#ff1493', borderWidth: 2.5 },
        { data: toXY(blues[i]), borderColor: '#0000ff', borderWidth: 2.5 },
        { data: toXY(greens[i]), borderColor: '#1f8a1f', borderWidth: 2.5 },
        { data: toXY(spectra[i]), borderColor: '#000000', borderWidth: 1.5 }
      ]
    },
    options: {
      responsive: false,
      animation: false,
      devicePixelRatio: 1,
      layout: { padding: { top: 2, right: 15, bottom: 0, left: 0 } },
      elements: {
        point: { radius: 0 },
        line: { tension: 0, fill: false, borderJoinStyle: 'round' }
      },
      plugins: {
        legend: { display: false },
        tooltip: { enabled: false },
        frame: { xTitle: i === 5 ? 'freq(GHz)' : '' }
      },
      scales: {
        x: {
          type: 'linear',
          min: xRanges[i][0],
          max: xRanges[i][1],
          grid: { display: false, drawTicks: false },
          border: { display: false },
          afterBuildTicks: s => { s.ticks = ticksX.map(v => ({ value: v })); },
          afterFit: s => {
            s.height = h - 2 - plotH;
            s.paddingLeft = 0; s.paddingRight = 0;
          },
          ticks: {
            autoSkip: false,
            maxRotation: 0,
            padding: 7,
            color: '#000',
            font: { family: FONT, size: 19 },
            callback: v => String(v)
          }
        },
        y: {
          min: yRange[0],
          max: yRange[1],
          grid: { display: false, drawTicks: false },
          border: { display: false },
          afterBuildTicks: s => { s.ticks = yTicks.map(v => ({ value: v })); },
          afterFit: s => {
            s.width = 64;
            s.paddingTop = 0; s.paddingBottom = 0;
          },
          ticks: {
            padding: 10,
            color: '#000',
            font: { family: FONT, size: 19 },
            callback: v => String(v)
          }
        }
      }
    },
    plugins: [framePlugin]
  });
}
</script>
</body>
</html>
